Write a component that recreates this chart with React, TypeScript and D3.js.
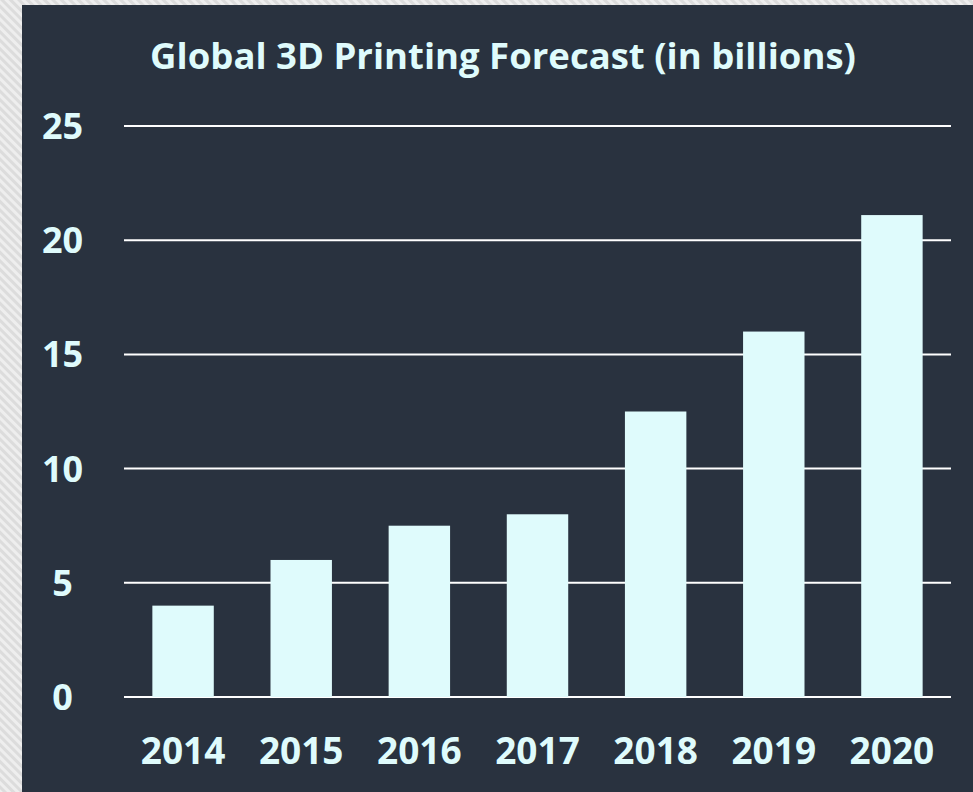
import React from "react";
import * as d3 from "d3";

const years = ["2014", "2015", "2016", "2017", "2018", "2019", "2020"];
const values = [4, 6, 7.5, 8, 12.5, 16, 21.1];
const yTicks = [0, 5, 10, 15, 20, 25];
const title = "Global 3D Printing Forecast (in billions)";

const W = 973;
const H = 792;
const FONT = "'Open Sans', sans-serif";
const TXT = "#dffbfc";

export default function App() {
  const x = d3.scaleBand<string>().domain(years).range([124, 951]).paddingInner(0.48).paddingOuter(0.24);
  const y = d3.scaleLinear().domain([0, 25]).range([697, 126]);
  return (
    <svg width={W} height={H} style={{ position: "absolute", left: 0, top: 0 }}>
      <defs>
        <pattern id="hatch" width="6" height="6" patternUnits="userSpaceOnUse" patternTransform="rotate(-45)">
          <rect width="6" height="6" fill="#eeeeee" />
          <rect width="3" height="6" fill="#dcdcdc" />
        </pattern>
      </defs>
      <rect width={W} height={H} fill="url(#hatch)" />
      <rect x={22} y={5} width={W - 22} height={H - 5} fill="#29323f" />
      <text x={503} y={69} textAnchor="middle" fill={TXT} fontFamily={FONT} fontWeight={700} fontSize={36.5}>
        {title}
      </text>
      {yTicks.map((t) => (
        <g key={t}>
          <line x1={124} x2={951} y1={y(t)} y2={y(t)} stroke="#ffffff" strokeWidth={2} />
          <text x={62.5} y={y(t)} dy="0.36em" textAnchor="middle" fill={TXT} fontFamily={FONT} fontWeight={700} fontSize={36}>
            {t}
          </text>
        </g>
      ))}
      {years.map((yr, i) => (
        <rect key={yr} x={x(yr)} y={y(values[i])} width={x.bandwidth()} height={y(0) - y(values[i])} fill={TXT} />
      ))}
      {years.map((yr) => (
        <text key={yr} x={(x(yr) as number) + x.bandwidth() / 2} y={751} dy="0.36em" textAnchor="middle" fill={TXT} fontFamily={FONT} fontWeight={700} fontSize={37}>
          {yr}
        </text>
      ))}
    </svg>
  );
}
